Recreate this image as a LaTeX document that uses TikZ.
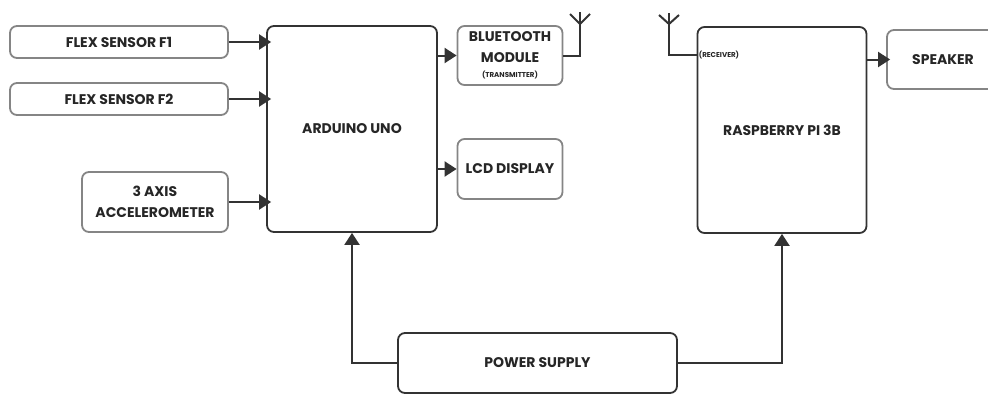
\documentclass[tikz,border=0pt]{standalone}
\usepackage{fontspec}
\setmainfont{Poppins}
\usetikzlibrary{arrows.meta}
\definecolor{lightedge}{HTML}{858585}
\definecolor{darkedge}{HTML}{333333}
\definecolor{ink}{HTML}{262626}
\tikzset{
  blockbase/.style={rounded corners=7pt,inner sep=0pt,fill=white,text=ink,align=center,font=\fontsize{14}{21}\selectfont\bfseries},
  softbox/.style={blockbase,draw=lightedge,line width=1.8pt},
  hardbox/.style={blockbase,draw=darkedge,line width=1.8pt},
  wire/.style={draw=darkedge,line width=2pt},
  feed/.style={wire,-{Triangle[length=12pt,width=15pt]}},
  tinylabel/.style={inner sep=0pt,text=ink,font=\fontsize{7.1}{8}\selectfont\bfseries}
}
\begin{document}
\begin{tikzpicture}[x=1pt,y=-1pt]
\useasboundingbox (0,0) rectangle (988,394);
\clip (0,0) rectangle (988,394);
\node[softbox,minimum width=218pt,minimum height=32pt] (f1) at (119,42) {FLEX SENSOR F1};
\node[softbox,minimum width=218pt,minimum height=32pt] (f2) at (119,99) {FLEX SENSOR F2};
\node[softbox,minimum width=146pt,minimum height=60pt] (acc) at (155,202) {3 AXIS\\ACCELEROMETER};
\node[hardbox,minimum width=170pt,minimum height=206pt] (ard) at (352,129) {ARDUINO UNO};
\node[softbox,minimum width=105pt,minimum height=59pt] (bt) at (510,55.5) {};
\node[softbox,minimum width=105pt,minimum height=60pt] (lcd) at (510,169) {LCD DISPLAY};
\node[hardbox,minimum width=169pt,minimum height=206pt] (rpi) at (782,130) {RASPBERRY PI 3B};
\node[softbox,minimum width=112pt,minimum height=59pt] (spk) at (943,59.5) {SPEAKER};
\node[hardbox,minimum width=279pt,minimum height=60pt] (pwr) at (537.5,363) {POWER SUPPLY};
\node[inner sep=0pt,text=ink,align=center,font=\fontsize{14}{21.5}\selectfont\bfseries] (btt) at (510,47) {BLUETOOTH\\MODULE};
\node[tinylabel] (btx) at (510,75) {(TRANSMITTER)};
\node[tinylabel] (rx) at (719,55) {(RECEIVER)};
\coordinate (ant1) at (580,24);
\coordinate (ant1l) at (570,14);
\coordinate (ant1r) at (590,14);
\coordinate (ant1t) at (580,12);
\coordinate (ant2) at (669,24);
\coordinate (ant2l) at (659,15);
\coordinate (ant2r) at (679,15);
\coordinate (ant2t) at (669,13);
\path[feed,shorten >=-5pt] (f1.east) -- (ard.west |- f1.east);
\path[feed,shorten >=-5pt] (f2.east) -- (ard.west |- f2.east);
\path[feed,shorten >=-5pt] (acc.east) -- (ard.west |- acc.east);
\path[feed] (ard.east |- bt.west) -- (bt.west);
\path[feed] (ard.east |- lcd.west) -- (lcd.west);
\path[feed,shorten >=-4pt] (rpi.east |- spk.west) -- (spk.west);
\path[feed] (pwr.west) -| (ard.south);
\path[feed] (pwr.east) -| (rpi.south);
\path[wire] (bt.east) -| (ant1t);
\path[wire] (ant1l) -- (ant1) -- (ant1r);
\path[wire] (rpi.west |- rx.west) -| (ant2t);
\path[wire] (ant2l) -- (ant2) -- (ant2r);
\end{tikzpicture}
\end{document}
